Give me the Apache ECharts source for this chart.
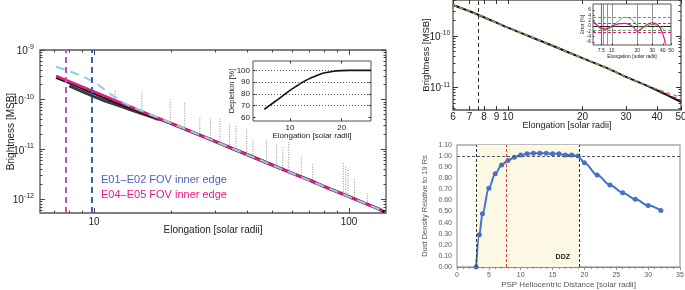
<!DOCTYPE html>
<html>
<head>
<meta charset="utf-8">
<script src="https://cdn.jsdelivr.net/npm/echarts@6.0.0/dist/echarts.min.js"></script>
<style>html,body{margin:0;padding:0;background:#fff;}#chart{width:685px;height:290px;}</style>
</head>
<body>
<div id="chart"></div>
<script>
// ================= DATA =================
// Panel A: observed brightness vs elongation
const aElongation = [7.1, 8, 9, 10, 11, 12, 13, 14, 16, 18, 20, 25, 30, 35, 40, 50, 60, 70, 80, 90, 100, 115, 130, 138];
const aBrightness = [2.8e-10, 2.2e-10, 1.7e-10, 1.36e-10, 1.1e-10, 9.3e-11, 7.9e-11, 6.8e-11, 5.2e-11, 4.1e-11, 3.35e-11, 2.1e-11, 1.43e-11, 1.03e-11, 7.8e-12, 4.85e-12, 3.3e-12, 2.4e-12, 1.79e-12, 1.39e-12, 1.12e-12, 8.3e-13, 6.4e-13, 5.5e-13];
const aBandElongation = [8, 9, 10, 11, 12, 13, 14, 16, 18];
const aBandBrightness = [1.9e-10, 1.45e-10, 1.15e-10, 9.5e-11, 8.2e-11, 7.1e-11, 6.2e-11, 4.9e-11, 4.0e-11];
const aFitElongation = [7.1, 135];
const aFitBrightness = [3.0e-10, 5.9e-13];
const aModelElongation = [7.1, 8, 9, 10, 11, 12, 13, 14, 20, 50, 135];
const aModelBrightness = [4.6e-10, 3.75e-10, 2.95e-10, 2.25e-10, 1.6e-10, 1.15e-10, 8.8e-11, 7.3e-11, 3.4e-11, 4.85e-12, 5.9e-13];
const aSpikeElongation = [12.1, 15.4, 19.9, 22.7, 26, 28.6, 31.2, 34, 36, 39.7, 42, 47.5, 52, 55, 58, 65, 72, 95, 97, 99, 105, 118];
const aSpikeLow = [1.0e-10, 6.4e-11, 3.4e-11, 2.6e-11, 2.0e-11, 1.7e-11, 1.4e-11, 1.1e-11, 1.0e-11, 8e-12, 7e-12, 5.6e-12, 4.7e-12, 4.2e-12, 3.8e-12, 3.0e-12, 2.4e-12, 1.25e-12, 1.2e-12, 1.15e-12, 1.05e-12, 8e-13];
const aSpikeHigh = [1.6e-10, 1.47e-10, 1.0e-10, 9.3e-11, 4.5e-11, 4.0e-11, 4.3e-11, 3.2e-11, 3.0e-11, 2.6e-11, 1.6e-11, 1.58e-11, 1.3e-11, 1.1e-11, 1.4e-11, 7e-12, 5e-12, 5.4e-12, 4.5e-12, 4e-12, 2.5e-12, 1.3e-12];
const aInnerEdges = [7.74, 9.88];
// Panel A inset: depletion
const depElongation = [7.1, 8, 9, 10, 11, 12, 13, 14, 15, 16, 18, 20, 22, 25, 29.6];
const depPercent = [67, 72.5, 78, 83, 87, 90.5, 93, 95, 96.8, 98, 99.3, 99.8, 100, 100, 100];
// Panel B
const bElongation = [6, 7.5, 10, 15, 20, 25, 30, 35, 40, 45, 50];
const bObserved = [4.0e-10, 2.65e-10, 1.45e-10, 6.6e-11, 3.7e-11, 2.4e-11, 1.6e-11, 1.17e-11, 8.8e-12, 6.7e-12, 5.2e-12];
const bModelGreen = [4.0e-10, 2.65e-10, 1.45e-10, 6.6e-11, 3.7e-11, 2.4e-11, 1.6e-11, 1.19e-11, 9.3e-12, 7.6e-12, 6.4e-12];
const bModelPink = [4.0e-10, 2.65e-10, 1.45e-10, 6.6e-11, 3.7e-11, 2.4e-11, 1.6e-11, 1.18e-11, 9.0e-12, 7.0e-12, 5.7e-12];
const bEdge = 7.5;
// Panel B inset: error
const eElongation = [6, 6.5, 7, 7.5, 8, 9, 10, 12, 14, 16, 18, 20, 22, 25, 30, 35, 40, 43];
const eGreen = [1.5, 0.5, -0.5, -1.2, -1.5, -1.2, -0.3, 1.8, 3.2, 3.0, 1.8, 0.2, -0.4, -0.3, 0.6, 0.2, -1.0, -2.0];
const ePink = [2.0, 0.8, -0.2, -0.8, -1.1, -0.8, 0.0, 0.8, 1.0, 0.6, -0.4, -2.0, -1.2, 0.2, 1.2, 0.4, -3.0, -6.8];
const eGreenBounds = [3.4, -1.5];
const ePinkBounds = [1.2, -2.2];
const eVLines = [7.5, 8, 9, 10, 20, 30];
// Panel C
const cDistance = [3, 3.5, 4, 5, 6, 7, 8, 9, 10, 11, 12, 13, 14, 15, 16, 17, 18, 19, 20, 22, 24, 26, 28, 30, 32];
const cDensity = [0, 0.29, 0.48, 0.71, 0.84, 0.92, 0.96, 0.99, 1.01, 1.02, 1.025, 1.025, 1.025, 1.02, 1.02, 1.01, 1.01, 1.00, 0.94, 0.83, 0.74, 0.67, 0.61, 0.555, 0.51];
const cDDZ = [3, 19.2];
const cRedLine = 7.7;

// ================= HELPERS =================
const L = Math.log10;
const FONT = '"Liberation Sans", Arial, sans-serif';
function minorsIn(lo, hi) {
  const out = [];
  for (let e = Math.floor(lo) - 1; e <= Math.ceil(hi); e++)
    for (let m = 2; m < 10; m++) { const v = e + L(m); if (v > lo + 1e-6 && v < hi - 1e-6) out.push(v); }
  return out;
}
function majorsIn(lo, hi) { const out = []; for (let e = Math.ceil(lo); e <= Math.floor(hi); e++) out.push(e); return out; }
const xAxes = [], yAxes = [];
function tickAxis(dim, grid, pos, min, max, ticks, len, color, extra) {
  const a = {type: 'value', gridIndex: grid, position: pos, min: min, max: max,
    axisLine: {show: false, onZero: false},
    axisTick: {show: true, inside: true, length: len, customValues: ticks, lineStyle: {color: color, width: 1}},
    axisLabel: {show: false}, splitLine: {show: false}, minorTick: {show: false}, silent: true,
    nameMoveOverlap: false};
  if (extra) Object.assign(a, extra);
  const list = dim === 'x' ? xAxes : yAxes;
  list.push(a);
  return list.length - 1;
}
function lbl(values, fmt, size, margin, extra) {
  return Object.assign({show: true, customValues: values, formatter: fmt, fontSize: size, color: '#222', margin: margin, fontFamily: FONT, hideOverlap: false}, extra || {});
}
const powFmt = v => '{b|10}{s|' + Math.round(v) + '}';
function supRich(b, s, lh) {
  return {b: {fontSize: b, lineHeight: lh, verticalAlign: 'bottom', fontFamily: FONT, color: '#222'},
          s: {fontSize: s, lineHeight: lh, verticalAlign: 'top', fontFamily: FONT, color: '#222'}};
}
const pairsLogLog = (xs, ys) => xs.map((x, i) => [L(x), L(ys[i])]);
const pairsLogX = (xs, ys) => xs.map((x, i) => [L(x), ys[i]]);

// ================= GRIDS =================
const grids = [
  {left: 40, top: 50, width: 346, height: 163},   // A
  {left: 253, top: 61, width: 118, height: 60, z: 5},    // A inset
  {left: 453, top: 0, width: 228, height: 110},   // B
  {left: 593, top: 4, width: 78, height: 41, z: 5},      // B inset
  {left: 457, top: 145, width: 223, height: 122}  // C
].map((g, i) => Object.assign({show: true, borderColor: i === 4 ? '#a6a6a6' : '#555', borderWidth: i === 1 || i === 3 ? 1 : 1.3,
  backgroundColor: '#fff', outerBoundsMode: 'none', containLabel: false}, g));

// ---- Panel A axes ----
const AX = [L(6.14), L(139.6)], AY = [-12.28, -9];
const aXmaj = majorsIn(AX[0], AX[1]), aXmin = minorsIn(AX[0], AX[1]);
const aYmaj = majorsIn(AY[0], AY[1]), aYmin = minorsIn(AY[0], AY[1]);
const xA = tickAxis('x', 0, 'bottom', AX[0], AX[1], aXmaj, 5, '#444', {
  axisLabel: lbl(aXmaj, v => String(Math.round(Math.pow(10, v))), 10, 4),
  name: 'Elongation [solar radii]', nameLocation: 'middle', nameGap: 12,
  nameTextStyle: {fontSize: 10, color: '#222', fontFamily: FONT}});
tickAxis('x', 0, 'bottom', AX[0], AX[1], aXmin, 2.5, '#444');
tickAxis('x', 0, 'top', AX[0], AX[1], aXmaj, 5, '#444');
tickAxis('x', 0, 'top', AX[0], AX[1], aXmin, 2.5, '#444');
const yA = tickAxis('y', 0, 'left', AY[0], AY[1], aYmaj, 5, '#444', {
  axisLabel: lbl(aYmaj, powFmt, 10, 6, {rich: supRich(10, 7, 13)}),
  name: 'Brightness [MSB]', nameLocation: 'middle', nameGap: 24,
  nameTextStyle: {fontSize: 10, color: '#222', fontFamily: FONT}});
tickAxis('y', 0, 'left', AY[0], AY[1], aYmin, 2.5, '#444');
tickAxis('y', 0, 'right', AY[0], AY[1], aYmaj, 5, '#444');
tickAxis('y', 0, 'right', AY[0], AY[1], aYmin, 2.5, '#444');

// ---- Panel A inset axes ----
const IX = [L(6.1), L(29.6)], IY = [57, 108];
const iXt = [L(10), L(20)], iYt = [60, 70, 80, 90, 100];
const xI = tickAxis('x', 1, 'bottom', IX[0], IX[1], iXt, 2.5, '#333', {
  axisLabel: lbl(iXt, v => String(Math.round(Math.pow(10, v))), 8, 3),
  name: 'Elongation [solar radii]', nameLocation: 'middle', nameGap: 11,
  nameTextStyle: {fontSize: 8, color: '#222', fontFamily: FONT}, z: 6});
tickAxis('x', 1, 'top', IX[0], IX[1], iXt, 2.5, '#333', {z: 6});
const yI = tickAxis('y', 1, 'left', IY[0], IY[1], iYt, 2.5, '#333', {
  axisLabel: lbl(iYt, v => String(v), 8, 3),
  name: 'Depletion [%]', nameLocation: 'middle', nameGap: 17,
  nameTextStyle: {fontSize: 7.5, color: '#222', fontFamily: FONT}, z: 6});
tickAxis('y', 1, 'right', IY[0], IY[1], iYt, 2.5, '#333', {z: 6});

// ---- Panel B axes ----
const BX = [L(6), L(50)], BY = [-11.44, -9.30];
const bXv = [6, 7, 8, 9, 10, 20, 30, 40, 50].map(L);
const bYmaj = majorsIn(BY[0], BY[1]), bYmin = minorsIn(BY[0], BY[1]);
const xB = tickAxis('x', 2, 'bottom', BX[0], BX[1], bXv, 4, '#333', {
  axisLabel: lbl(bXv, v => String(Math.round(Math.pow(10, v))), 10, 2),
  name: 'Elongation [solar radii]', nameLocation: 'middle', nameGap: 11,
  nameTextStyle: {fontSize: 9, color: '#222', fontFamily: FONT}});
tickAxis('x', 2, 'top', BX[0], BX[1], bXv, 4, '#333');
const yB = tickAxis('y', 2, 'left', BY[0], BY[1], bYmaj, 5, '#333', {
  axisLabel: lbl(bYmaj, powFmt, 9, 3, {rich: supRich(10, 6.5, 12)}),
  name: 'Brightness [MSB]', nameLocation: 'middle', nameGap: 22,
  nameTextStyle: {fontSize: 9.5, color: '#222', fontFamily: FONT}});
tickAxis('y', 2, 'left', BY[0], BY[1], bYmin, 2.5, '#333');
tickAxis('y', 2, 'right', BY[0], BY[1], bYmaj, 5, '#333');
tickAxis('y', 2, 'right', BY[0], BY[1], bYmin, 2.5, '#333');

// ---- Panel B inset axes ----
const EX = [L(6), L(50)], EY = [-7.1, 8.2];
const eXv = [7.5, 10, 20, 30, 40, 50].map(L), eYv = [-6, -4, -2, 0, 2, 4, 6];
const xE = tickAxis('x', 3, 'bottom', EX[0], EX[1], eXv, 1.5, '#333', {
  axisLabel: lbl(eXv, v => { const r = Math.pow(10, v); return r < 9.9 ? r.toFixed(1) : String(Math.round(r)); }, 5, 3),
  name: 'Elongation [solar radii]', nameLocation: 'middle', nameGap: 9,
  nameTextStyle: {fontSize: 5, color: '#222', fontFamily: FONT}, z: 6});
const yE = tickAxis('y', 3, 'left', EY[0], EY[1], eYv, 1.5, '#333', {
  axisLabel: lbl(eYv, v => String(v), 5, 2),
  name: 'Error [%]', nameLocation: 'middle', nameGap: 8,
  nameTextStyle: {fontSize: 5, color: '#222', fontFamily: FONT}, z: 6});

// ---- Panel C axes ----
xAxes.push({type: 'value', gridIndex: 4, min: 0, max: 35, interval: 5, position: 'bottom', nameMoveOverlap: false,
  axisLine: {show: true, onZero: false, lineStyle: {color: '#8c8c8c'}},
  axisTick: {show: true, length: 3, lineStyle: {color: '#8c8c8c'}},
  minorTick: {show: true, splitNumber: 5, length: 2, lineStyle: {color: '#8c8c8c'}},
  axisLabel: {fontSize: 7, color: '#595959', margin: 5, fontFamily: FONT},
  splitLine: {show: false},
  name: 'PSP Heliocentric Distance [solar radii]', nameLocation: 'middle', nameGap: 14,
  nameTextStyle: {fontSize: 8, color: '#595959', fontFamily: FONT}});
const xC = xAxes.length - 1;
yAxes.push({type: 'value', gridIndex: 4, min: 0, max: 1.1, interval: 0.1, position: 'left', nameMoveOverlap: false,
  axisLine: {show: false, onZero: false}, axisTick: {show: false},
  axisLabel: {fontSize: 7, color: '#595959', margin: 5, fontFamily: FONT, formatter: v => v.toFixed(2)},
  splitLine: {show: false},
  name: 'Dust Density Relative to 19 Rs', nameLocation: 'middle', nameGap: 28,
  nameTextStyle: {fontSize: 7.5, color: '#595959', fontFamily: FONT}});
const yC = yAxes.length - 1;

// ================= SERIES =================
const noMark = {symbol: 'none', showSymbol: false, silent: true, animation: false};
const series = [
  // Panel A spikes
  {type: 'custom', xAxisIndex: xA, yAxisIndex: yA, silent: true, z: 1,
   data: aSpikeElongation.map((x, i) => [L(x), L(aSpikeLow[i]), L(aSpikeHigh[i])]),
   encode: {x: 0, y: [1, 2]},
   renderItem: (params, api) => {
     const p1 = api.coord([api.value(0), api.value(1)]);
     const p2 = api.coord([api.value(0), api.value(2)]);
     return {type: 'line', shape: {x1: p1[0], y1: p1[1], x2: p2[0], y2: p2[1]},
       style: {stroke: '#8a8a8a', lineWidth: 1, lineDash: [1, 1.5]}};
   }},
  Object.assign({type: 'line', xAxisIndex: xA, yAxisIndex: yA, z: 2,
   data: pairsLogLog(aBandElongation, aBandBrightness), lineStyle: {color: '#3a3a3a', width: 3}}, noMark),
  Object.assign({type: 'line', xAxisIndex: xA, yAxisIndex: yA, z: 2,
   data: pairsLogLog(aElongation, aBrightness), lineStyle: {color: '#111', width: 3},
   markLine: {silent: true, symbol: ['none', 'none'], label: {show: false}, animation: false,
     lineStyle: {type: [6, 4], width: 2},
     data: [{xAxis: L(aInnerEdges[0]), lineStyle: {color: '#b25ab6', type: [6, 4], width: 2}},
            {xAxis: L(aInnerEdges[1]), lineStyle: {color: '#3f5cc2', type: [6, 4], width: 2}}]}}, noMark),
  Object.assign({type: 'line', xAxisIndex: xA, yAxisIndex: yA, z: 3,
   data: pairsLogLog(aFitElongation, aFitBrightness), lineStyle: {color: '#e31c82', width: 2.5}}, noMark),
  Object.assign({type: 'line', xAxisIndex: xA, yAxisIndex: yA, z: 4,
   data: pairsLogLog(aModelElongation, aModelBrightness), smooth: 0.3,
   lineStyle: {color: '#8dd0e6', width: 2, type: [9, 6]}}, noMark),
  // Panel A inset
  Object.assign({type: 'line', xAxisIndex: xI, yAxisIndex: yI, z: 7, smooth: 0.3,
   data: pairsLogX(depElongation, depPercent), lineStyle: {color: '#111', width: 1.6},
   markLine: {silent: true, symbol: ['none', 'none'], label: {show: false}, animation: false,
     lineStyle: {color: '#555', type: [1, 2], width: 1},
     data: [70, 80, 90, 100].map(v => ({yAxis: v}))}}, noMark),
  // Panel B
  Object.assign({type: 'line', xAxisIndex: xB, yAxisIndex: yB, z: 2, smooth: 0.3,
   data: pairsLogLog(bElongation, bObserved), lineStyle: {color: '#111', width: 2},
   markLine: {silent: true, symbol: ['none', 'none'], label: {show: false}, animation: false,
     lineStyle: {color: '#333', type: [4, 3], width: 1}, data: [{xAxis: L(bEdge)}]}}, noMark),
  Object.assign({type: 'line', xAxisIndex: xB, yAxisIndex: yB, z: 3, smooth: 0.3,
   data: pairsLogLog(bElongation, bModelPink), lineStyle: {color: '#e31c82', width: 1.2, type: [4, 3]}}, noMark),
  Object.assign({type: 'line', xAxisIndex: xB, yAxisIndex: yB, z: 3, smooth: 0.3,
   data: pairsLogLog(bElongation, bModelGreen), lineStyle: {color: '#7aab4a', width: 1.2, type: [4, 3]}}, noMark),
  // Panel B inset
  Object.assign({type: 'line', xAxisIndex: xE, yAxisIndex: yE, z: 7, smooth: 0.4,
   data: pairsLogX(eElongation, eGreen), lineStyle: {color: '#5aa55a', width: 1},
   markLine: {silent: true, symbol: ['none', 'none'], label: {show: false}, animation: false,
     data: eVLines.map((v, i) => ({xAxis: L(v), lineStyle: {color: i === 0 ? '#5a6fc4' : '#777', type: 'solid', width: i === 0 ? 1.2 : 0.8}}))
       .concat([{yAxis: 0, lineStyle: {color: '#111', type: 'solid', width: 0.9}}])
       .concat(eGreenBounds.map(v => ({yAxis: v, lineStyle: {color: '#5aa55a', type: [3, 2], width: 1}})))
       .concat(ePinkBounds.map(v => ({yAxis: v, lineStyle: {color: '#e31c82', type: [3, 2], width: 1}})))}}, noMark),
  Object.assign({type: 'line', xAxisIndex: xE, yAxisIndex: yE, z: 8, smooth: 0.4,
   data: pairsLogX(eElongation, ePink), lineStyle: {color: '#e31c82', width: 1.2}}, noMark),
  // Panel C
  {type: 'line', xAxisIndex: xC, yAxisIndex: yC, z: 4, silent: true, animation: false,
   data: cDistance.map((x, i) => [x, cDensity[i]]), smooth: 0.35, smoothMonotone: 'x',
   symbol: 'circle', symbolSize: 5, itemStyle: {color: '#4472c4'}, lineStyle: {color: '#4472c4', width: 2},
   markArea: {silent: true, itemStyle: {color: '#fdf8e3'}, data: [[{xAxis: cDDZ[0]}, {xAxis: cDDZ[1]}]]},
   markLine: {silent: true, symbol: ['none', 'none'], label: {show: false}, animation: false,
     data: [{xAxis: cDDZ[0], lineStyle: {color: '#333', type: [3, 2], width: 1}},
            {xAxis: cDDZ[1], lineStyle: {color: '#333', type: [3, 2], width: 1}},
            {xAxis: cRedLine, lineStyle: {color: '#e0403a', type: [3, 2], width: 1}},
            {yAxis: 1.0, lineStyle: {color: '#555', type: [3, 2], width: 1}}]},
   markPoint: {silent: true, symbol: 'circle', symbolSize: 0, animation: false,
     label: {show: true, formatter: 'DDZ', fontSize: 7, fontWeight: 'bold', color: '#222', fontFamily: FONT},
     data: [{coord: [16.6, 0.09]}]}}
];

const option = {
  animation: false,
  grid: grids,
  xAxis: xAxes,
  yAxis: yAxes,
  series: series,
  graphic: [
    {type: 'text', left: 101, top: 174, silent: true,
     style: {text: 'E01–E02 FOV inner edge', fill: '#4b5fc0', font: '11px "Liberation Sans", Arial, sans-serif'}},
    {type: 'text', left: 101, top: 189, silent: true,
     style: {text: 'E04–E05 FOV inner edge', fill: '#e31c82', font: '11px "Liberation Sans", Arial, sans-serif'}}
  ]
};
const chart = echarts.init(document.getElementById('chart'), null, {renderer: 'canvas'});
chart.setOption(option);
</script>
</body>
</html>
